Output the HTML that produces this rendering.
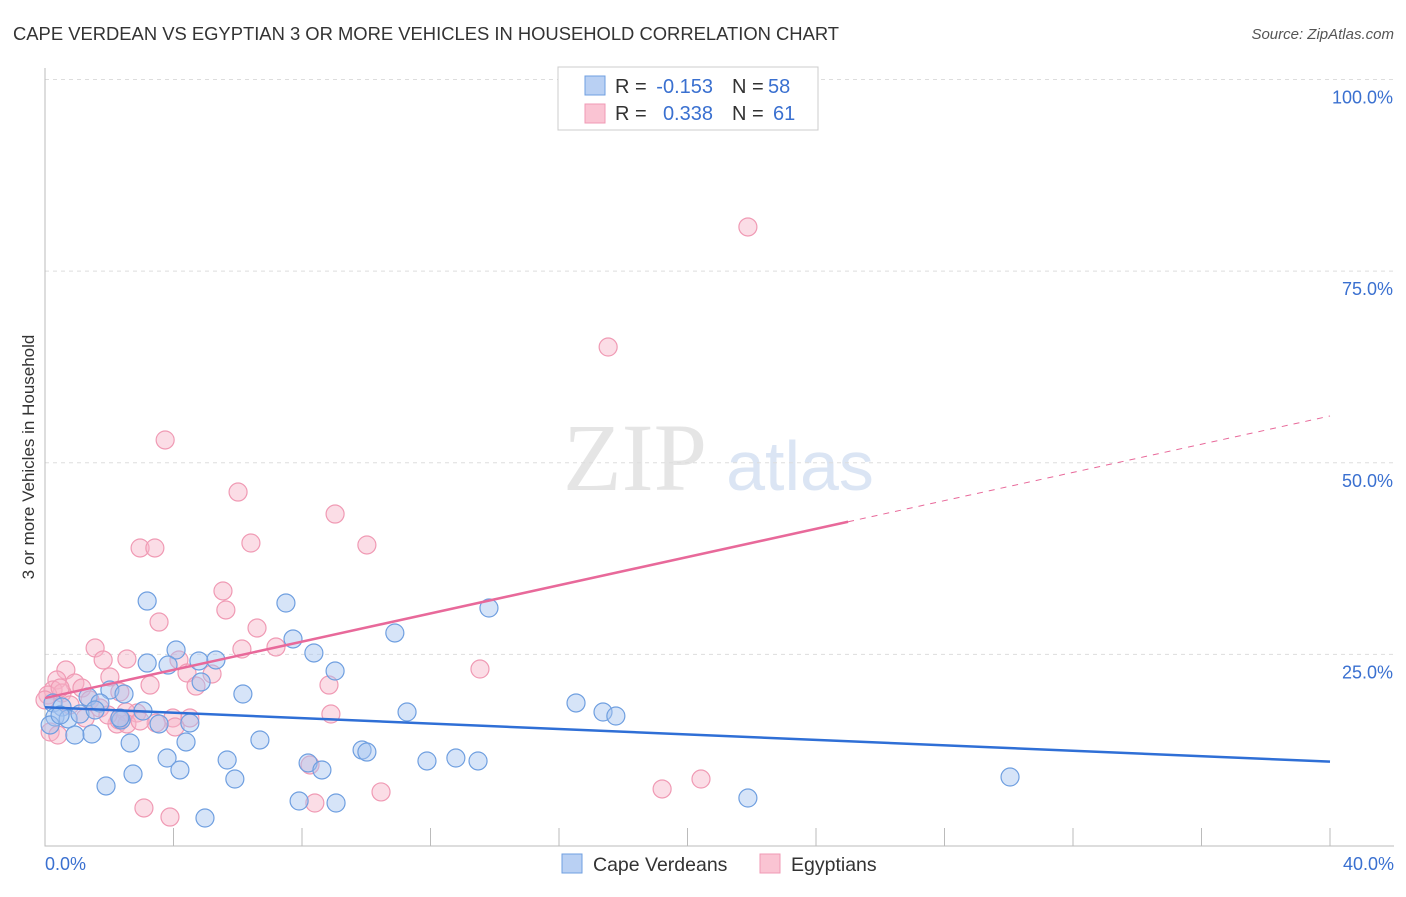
<!DOCTYPE html>
<html><head><meta charset="utf-8"><style>
body{margin:0;background:#fff;font-family:"Liberation Sans",sans-serif}
</style></head><body>
<svg id="chart" width="1406" height="892" xmlns="http://www.w3.org/2000/svg" font-family="Liberation Sans, sans-serif">
<text x="13" y="40" font-size="18.4" fill="#333">CAPE VERDEAN VS EGYPTIAN 3 OR MORE VEHICLES IN HOUSEHOLD CORRELATION CHART</text>
<text x="1394" y="39" font-size="15" fill="#555" text-anchor="end" font-style="italic">Source: ZipAtlas.com</text>
<text transform="translate(34,457) rotate(-90)" font-size="17" fill="#333" text-anchor="middle">3 or more Vehicles in Household</text>
<g opacity="0.5">
<text x="635" y="490" font-size="96" font-family="Liberation Serif, serif" fill="#ccc" text-anchor="middle">ZIP</text>
<text x="800" y="490" font-size="70" fill="#b8cdea" text-anchor="middle">atlas</text>
</g>
<g id="grid"></g><g id="axes"></g><g id="pts"></g><g id="lines"></g>
<g font-size="20">
<rect x="558" y="67" width="260" height="63" fill="#fff" stroke="#ccc"/>
<rect x="585" y="76" width="20" height="19" fill="#b9d0f3" stroke="#6f9fe0"/>
<rect x="585" y="104" width="20" height="19" fill="#fac4d3" stroke="#f09ab4"/>
<text x="615" y="93" fill="#333">R =</text>
<text x="713" y="93" fill="#3a70d0" text-anchor="end">-0.153</text>
<text x="732" y="93" fill="#333">N =</text>
<text x="768" y="93" fill="#3a70d0">58</text>
<text x="615" y="120" fill="#333">R =</text>
<text x="713" y="120" fill="#3a70d0" text-anchor="end">0.338</text>
<text x="732" y="120" fill="#333">N =</text>
<text x="773" y="120" fill="#3a70d0">61</text>
</g>
<g>
<rect x="562" y="854" width="20" height="19" fill="#b9d0f3" stroke="#6f9fe0"/>
<text x="593" y="871" font-size="19.5" fill="#333">Cape Verdeans</text>
<rect x="760" y="854" width="20" height="19" fill="#fac4d3" stroke="#f09ab4"/>
<text x="791" y="871" font-size="19.5" fill="#333">Egyptians</text>
</g>
</svg>
<script>
const blueX=[3.18,7.50,13.82,10.89,7.72,4.08,8.37,3.18,3.83,4.79,5.32,9.03,4.86,2.02,2.46,6.16,1.34,0.25,0.53,1.71,3.05,11.27,16.53,17.37,17.77,0.31,0.72,1.09,2.37,3.55,4.51,1.46,0.93,2.65,4.39,6.69,9.87,10.02,3.80,5.67,8.19,8.62,11.89,12.79,13.48,4.20,2.74,5.91,1.90,30.04,7.91,9.06,21.88,4.98,0.16,2.33,1.56,0.47];
const blueY=[31.96,31.70,31.05,27.79,27.01,25.57,25.18,23.87,23.61,24.14,24.27,22.83,21.40,20.35,19.83,19.83,19.44,18.66,18.13,18.66,17.61,17.48,18.66,17.48,16.96,16.83,16.57,17.22,16.44,15.92,16.05,14.61,14.48,13.44,13.57,13.83,12.52,12.26,11.48,11.22,10.83,9.92,11.09,11.48,11.09,9.92,9.39,8.74,7.83,9.00,5.87,5.61,6.26,3.65,15.79,16.70,17.74,17.09];
const pinkX=[21.88,17.53,3.74,6.01,9.03,6.41,10.02,2.96,3.42,5.54,5.63,3.55,6.60,1.56,6.13,7.19,2.55,1.81,4.17,0.65,4.42,5.20,13.54,0.37,0.93,2.02,3.27,4.70,8.84,0.25,1.15,2.33,1.40,0.53,0.09,1.71,2.86,3.98,4.51,8.90,2.52,2.24,2.55,3.46,4.05,2.30,0.16,0.40,8.25,20.42,19.21,10.46,8.40,3.08,3.89,0,0.78,1.25,1.96,0.47,2.96];
const pinkY=[80.76,65.10,52.97,46.18,43.31,39.53,39.27,38.88,38.88,33.27,30.79,29.22,28.44,25.83,25.70,25.96,24.40,24.27,24.27,22.96,22.57,22.44,23.09,21.66,21.27,22.05,21.00,20.87,21.00,20.35,20.61,20.09,19.05,19.96,19.70,18.00,17.35,16.70,16.70,17.22,17.48,15.92,15.92,16.05,15.53,16.44,14.87,14.48,10.57,8.74,7.44,7.05,5.61,4.96,3.78,19.05,18.40,16.70,17.09,20.61,16.31];
const yTicks=[25,50,75,100];
const xTickLabels=["0.0%","40.0%"];
const blueFit=[18.1,11.0]; // y at x=0 and x=40
const pinkFit=[19.3,56.1];
const pinkSolidEnd=25;
const NS="http://www.w3.org/2000/svg";
const sx=v=>45+v*1285/40, sy=v=>846-v*7.665;
function mk(t,a,p){const e=document.createElementNS(NS,t);for(const k in a)e.setAttribute(k,a[k]);p.appendChild(e);return e;}
const grid=document.getElementById('grid'),axes=document.getElementById('axes');
yTicks.forEach(t=>{
 const l=mk('line',{x1:45,x2:1394,y1:sy(t),y2:sy(t),stroke:'#ddd','stroke-dasharray':'4,4'},grid);
 
 
 const tx=mk('text',{x:1393,y:sy(t)+24,'font-size':18,fill:'#3a70d0','text-anchor':'end'},axes);
 tx.textContent=t.toFixed(1)+'%';
 
 
});
const ax=mk('path',{d:'M45,68V846H1394',stroke:'#bbb',fill:'none'},axes);


for(let i=0;i<=10;i++){const t=mk('line',{x1:sx(i*4),x2:sx(i*4),y1:828,y2:846,stroke:'#bbb'},axes);
 
 }
[[0,'start',45],[40,'end',1394]].forEach((d,i)=>{const t=mk('text',{x:d[2],y:870,'font-size':18,fill:'#3a70d0','text-anchor':d[1]},axes);t.textContent=xTickLabels[i];
 
 });
const pts=document.getElementById('pts');
function dots(X,Y,fill,stroke,name){X.forEach((x,i)=>{const c=mk('circle',{cx:sx(x),cy:sy(Y[i]),r:9,fill:fill,stroke:stroke,'stroke-width':1.2},pts);
 
 });}
dots(pinkX,pinkY,'rgba(247,180,200,0.45)','#f09ab4','egyptian-point');
dots(blueX,blueY,'rgba(163,196,240,0.45)','#6f9fe0','cape-verdean-point');
const lines=document.getElementById('lines');
const bl=mk('line',{x1:sx(0),y1:sy(blueFit[0]),x2:sx(40),y2:sy(blueFit[1]),stroke:'#2f6fd6','stroke-width':2.5},lines);


const pm=v=>pinkFit[0]+(pinkFit[1]-pinkFit[0])*v/40;
const pl=mk('line',{x1:sx(0),y1:sy(pm(0)),x2:sx(pinkSolidEnd),y2:sy(pm(pinkSolidEnd)),stroke:'#e8699a','stroke-width':2.5},lines);


const pd=mk('line',{x1:sx(pinkSolidEnd),y1:sy(pm(pinkSolidEnd)),x2:sx(40),y2:sy(pm(40)),stroke:'#e8699a','stroke-width':1,'stroke-dasharray':'6,6'},lines);


</script>
</body></html>
